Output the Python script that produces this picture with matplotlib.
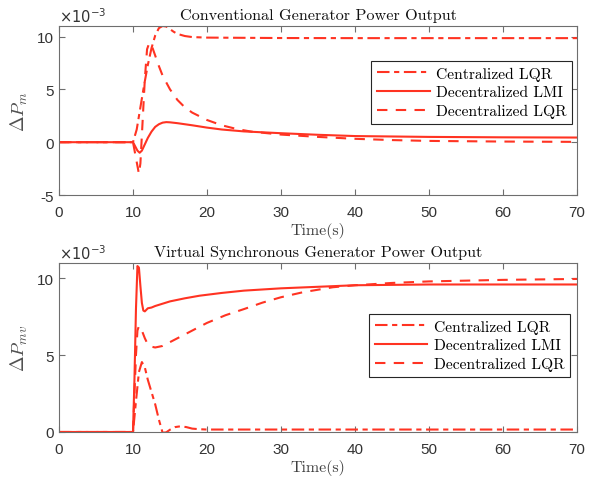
import matplotlib
matplotlib.use("Agg")
import matplotlib.pyplot as plt
import numpy as np

plt.rcParams['axes.unicode_minus'] = False
plt.rcParams['font.family'] = ['Liberation Sans', 'DejaVu Sans']

# ---------------- data (values in units of 1e-3) ----------------
labels = ["Centralized LQR", "Decentralized LMI", "Decentralized LQR"]

# Top: conventional generator power output
t_top_clqr = [0, 10, 10.5, 11, 11.5, 12, 12.5, 13, 13.5, 14, 14.5, 15, 15.5, 16, 17, 18, 20, 25, 30, 40, 50, 60, 70]
y_top_clqr = [0, 0, 1.2, 3.3, 5.4, 7.3, 8.9, 10.1, 10.8, 11.0, 10.95, 10.7, 10.45, 10.25, 10.05, 9.95, 9.9, 9.88, 9.86, 9.85, 9.85, 9.85, 9.85]

t_top_lmi = [0, 10, 10.3, 10.6, 10.9, 11.2, 11.6, 12, 12.5, 13, 13.5, 14, 14.5, 15, 16, 17, 18, 20, 22, 25, 30, 35, 40, 50, 60, 70]
y_top_lmi = [0, 0, -0.4, -0.8, -1.0, -0.8, -0.2, 0.4, 1.0, 1.45, 1.7, 1.85, 1.9, 1.88, 1.8, 1.7, 1.6, 1.38, 1.2, 1.02, 0.85, 0.7, 0.58, 0.5, 0.46, 0.44]

t_top_dlqr = [0, 10, 10.4, 10.8, 11.0, 11.3, 11.6, 11.9, 12.2, 12.5, 13, 13.5, 14, 15, 16, 17, 18, 20, 22, 24, 26, 30, 35, 40, 45, 50, 60, 70]
y_top_dlqr = [0, 0, -1.5, -3.0, -2.0, 2.0, 6.0, 8.8, 9.4, 9.2, 8.2, 7.2, 6.3, 5.0, 4.0, 3.3, 2.8, 2.1, 1.6, 1.25, 1.0, 0.72, 0.5, 0.32, 0.2, 0.12, 0.06, 0.03]

# Bottom: virtual synchronous generator power output
t_bot_clqr = [0, 10, 10.4, 10.8, 11.2, 11.6, 12, 12.5, 13, 13.5, 14, 14.5, 15, 15.7, 16.4, 17.2, 18, 19, 20, 30, 50, 70]
y_bot_clqr = [0, 0, 2.0, 3.9, 4.55, 4.2, 3.4, 2.6, 1.8, 0.8, -0.05, -0.02, 0.15, 0.32, 0.37, 0.32, 0.22, 0.18, 0.16, 0.16, 0.16, 0.16]

t_bot_lmi = [0, 10, 10.2, 10.4, 10.6, 10.8, 11.0, 11.2, 11.4, 11.6, 12, 12.5, 13, 14, 15, 17, 19, 22, 25, 30, 35, 40, 50, 60, 70]
y_bot_lmi = [0, 0, 3.5, 8.0, 10.8, 10.7, 9.5, 8.4, 7.9, 7.85, 8.05, 8.1, 8.2, 8.35, 8.5, 8.7, 8.87, 9.05, 9.2, 9.35, 9.45, 9.55, 9.6, 9.6, 9.6]

t_bot_dlqr = [0, 10, 10.2, 10.4, 10.6, 10.8, 11.2, 11.6, 12.0, 12.5, 13, 14, 15, 16, 18, 20, 22.5, 25, 27.5, 30, 33, 37, 40, 45, 50, 60, 70]
y_bot_dlqr = [0, 0, 2.5, 5.0, 6.6, 6.9, 6.6, 6.1, 5.7, 5.55, 5.5, 5.6, 5.85, 6.1, 6.6, 7.1, 7.6, 8.0, 8.42, 8.77, 9.1, 9.42, 9.55, 9.7, 9.8, 9.9, 9.96]

titles = ["Conventional Generator Power Output", "Virtual Synchronous Generator Power Output"]
ylabels = [r"$\Delta P_m$", r"$\Delta P_{mv}$"]
xticks = [0, 10, 20, 30, 40, 50, 60, 70]
yticks_top = [-5, 0, 5, 10]
yticks_bot = [0, 5, 10]

# ---------------- styling ----------------
RED = "#ff3322"
GRAY = "#6e6e6e"
LW = 1.5
styles = [(0, (6, 2.2, 2.5, 2.2)), "-", (0, (5, 4))]

fig = plt.figure(figsize=(5.9, 4.81), dpi=100)
ax1 = fig.add_axes([0.1, 0.5925, 0.878, 0.3514])
ax2 = fig.add_axes([0.1, 0.0998, 0.878, 0.3514])

panels = [
    (ax1, [(t_top_clqr, y_top_clqr), (t_top_lmi, y_top_lmi), (t_top_dlqr, y_top_dlqr)], (-5, 11), yticks_top, (0.99, 0.793)),
    (ax2, [(t_bot_clqr, y_bot_clqr), (t_bot_lmi, y_bot_lmi), (t_bot_dlqr, y_bot_dlqr)], (0, 11), yticks_bot, (0.986, 0.698)),
]

for i, (ax, series, ylim, yt, anchor) in enumerate(panels):
    for (t, y), ls, lab in zip(series, styles, labels):
        ax.plot(t, y, color=RED, lw=LW, linestyle=ls, label=lab)
    ax.set_xlim(0, 70)
    ax.set_ylim(*ylim)
    ax.set_xticks(xticks)
    ax.set_yticks(yt)
    ax.tick_params(direction="in", top=True, right=True, length=4, width=0.8,
                   color=GRAY, labelcolor="#333333", labelsize=11)
    ax.tick_params(axis="x", pad=7)
    for sp in ax.spines.values():
        sp.set_color(GRAY)
        sp.set_linewidth(0.8)
    ax.set_title(titles[i], fontfamily="cmr10", fontsize=11.7, color="#111111", pad=5)
    ax.set_xlabel("Time(s)", fontfamily="cmr10", fontsize=11.5, color="#404040", labelpad=2.5)
    ax.set_ylabel(ylabels[i], fontsize=13.5, color="#505050", math_fontfamily="cm", labelpad=5)
    ax.text(0.0, 1.005, r"$\times10^{-3}$", transform=ax.transAxes, fontsize=10.5,
            color="#333333", ha="left", va="bottom", math_fontfamily="dejavusans")
    leg = ax.legend(loc="upper right", bbox_to_anchor=anchor, borderaxespad=0,
                    prop={"family": "cmr10", "size": 11.2}, fancybox=False,
                    handlelength=3.4, handletextpad=0.4, labelspacing=0.3,
                    borderpad=0.35, framealpha=1)
    leg.get_frame().set_edgecolor("#262626")
    leg.get_frame().set_linewidth(0.8)

fig.savefig("out.png", dpi=100)
